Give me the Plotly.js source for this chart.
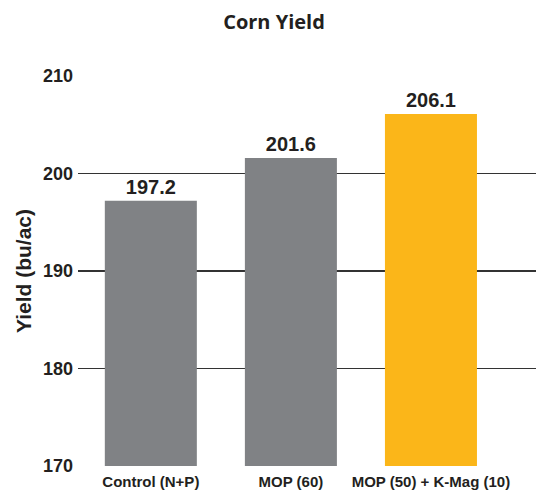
<!DOCTYPE html>
<html><head><meta charset="utf-8">
<script src="https://cdn.plot.ly/plotly-3.0.1.min.js"></script>
<style>html,body{margin:0;padding:0;background:#fff}#chart{width:536px;height:493px}</style>
</head><body><div id="chart"></div>
<script>
const categories = ["Control (N+P)", "MOP (60)", "MOP (50) + K-Mag (10)"];
const yields = [197.2, 201.6, 206.1];
const barColors = ["#808285", "#808285", "#FBB619"];
const yTicks = [170, 180, 190, 200, 210];

const trace = {
  type: "bar",
  x: categories,
  y: yields,
  width: 0.657,
  marker: {color: barColors},
  text: yields.map(v => v.toFixed(1)),
  textposition: "outside",
  cliponaxis: false,
  textfont: {family: "Liberation Sans, Arial, sans-serif", size: 20, color: "#231f20", weight: "bold"},
  hoverinfo: "none"
};

const layout = {
  width: 536, height: 493,
  margin: {l: 78, r: 0, t: 76, b: 27, pad: 0},
  paper_bgcolor: "#fff", plot_bgcolor: "#fff",
  showlegend: false,
  title: {text: "<b>Corn Yield</b>", x: 274/536, xanchor: "center", xref: "container", y: 1 - 22/493, yanchor: "middle", yref: "container",
    font: {family: "Open Sans, sans-serif", size: 20, color: "#231f20"}},
  xaxis: {
    range: [-0.52, 2.75], showgrid: false, zeroline: false, showline: false, ticks: "",
    tickfont: {family: "Liberation Sans, Arial, sans-serif", size: 15, color: "#231f20", weight: "bold"},
    ticklabelstandoff: 5,
    fixedrange: true
  },
  yaxis: {
    range: [170, 210], tickvals: yTicks, ticktext: yTicks.map(String),
    showgrid: true, gridcolor: "#333333", gridwidth: 1.3, zeroline: false, showline: false, ticks: "",
    tickfont: {family: "Liberation Sans, Arial, sans-serif", size: 18, color: "#231f20", weight: "bold"},
    ticklabelstandoff: 4,
    automargin: false,
    title: {text: "Yield (bu/ac)", standoff: 5, font: {family: "Liberation Sans, Arial, sans-serif", size: 21, color: "#231f20", weight: "bold"}},
    fixedrange: true
  }
};

Plotly.newPlot("chart", [trace], layout, {displayModeBar: false, staticPlot: true});
</script></body></html>
